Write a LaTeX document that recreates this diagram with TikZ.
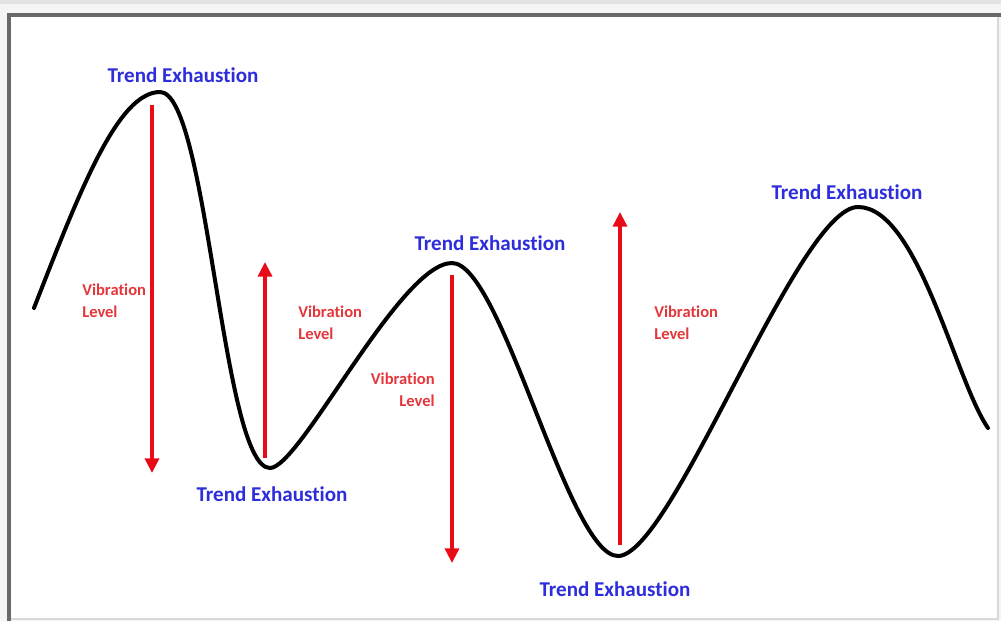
\documentclass[tikz,border=0pt]{standalone}
\usepackage{fontspec}
\setmainfont{Carlito}[Ligatures=NoCommon]
\usetikzlibrary{arrows.meta}
\definecolor{trendblue}{RGB}{45,45,220}
\definecolor{viblabel}{RGB}{228,55,60}
\definecolor{vibarrow}{RGB}{232,12,22}
\definecolor{framegray}{RGB}{105,105,105}

\begin{document}
\begin{tikzpicture}[x=.75pt,y=-.75pt,
    trend/.style={text=trendblue,font=\bfseries\fontsize{15.8}{18}\selectfont,inner sep=0pt},
    viblevel/.style={text=viblabel,font=\bfseries\fontsize{12.4}{16.5}\selectfont,inner sep=0pt},
    vib/.style={vibarrow,line width=2.6pt,-{Triangle[width=10.5pt,length=11pt]}}]
  \useasboundingbox (0,0) rectangle (1001,621);
  \fill[gray!8] (0,0) rectangle (1001,621);
  \fill[gray!22] (0,0) rectangle (1001,4);
  \fill[white] (9,15) rectangle (998,619);
  \draw[gray!30,line width=.8pt] (998,15) -- (998,619) -- (9,619);
  \draw[framegray,line width=2.4pt] (9,621) -- (9,15) -- (1001,15);
  \draw[line width=3pt,line cap=round]
    (34,308) .. controls (80,190) and (118,92) .. (160,92)
    .. controls (208,92) and (222,468) .. (270,468)
    .. controls (300,468) and (400,263) .. (452,263)
    .. controls (502,263) and (568,556) .. (618,556)
    .. controls (672,556) and (798,207) .. (858,207)
    .. controls (918,207) and (955,380) .. (988,428);
  \coordinate (drop1 top) at (152,105);
  \coordinate (drop1 end) at (152,473);
  \coordinate (rise1 top) at (265,262);
  \coordinate (rise1 end) at (265,458);
  \coordinate (drop2 top) at (452,275);
  \coordinate (drop2 end) at (452,563);
  \coordinate (rise2 top) at (620,212);
  \coordinate (rise2 end) at (620,545);
  \draw[vib] (drop1 top) -- (drop1 end);
  \draw[vib] (rise1 end) -- (rise1 top);
  \draw[vib] (drop2 top) -- (drop2 end);
  \draw[vib] (rise2 end) -- (rise2 top);
  \node[trend] (peak1) at (183,75) {Trend Exhaustion};
  \node[trend] (low1) at (272,494) {Trend Exhaustion};
  \node[trend] (peak2) at (490,243) {Trend Exhaustion};
  \node[trend] (low2) at (615,589) {Trend Exhaustion};
  \node[trend] (peak3) at (847,192) {Trend Exhaustion};
  \node[viblevel,align=left,anchor=west] (vib1) at (82,301) {Vibration\\Level};
  \node[viblevel,align=left,anchor=west] (vib2) at (298,323) {Vibration\\Level};
  \node[viblevel,align=right,anchor=east] (vib3) at (435,390) {Vibration\\Level};
  \node[viblevel,align=left,anchor=west] (vib4) at (654,323) {Vibration\\Level};
\end{tikzpicture}
\end{document}
